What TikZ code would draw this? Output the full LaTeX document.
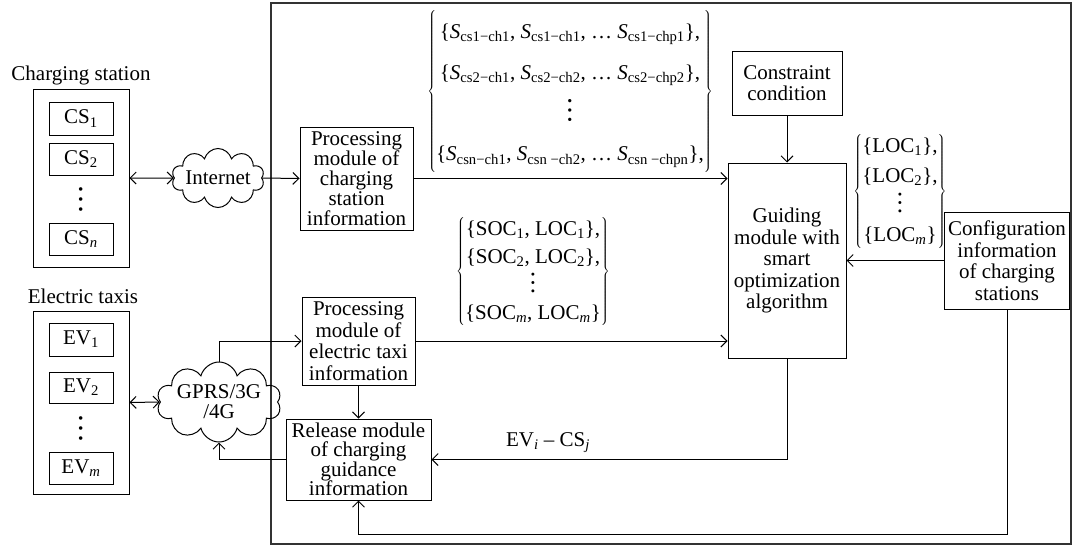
\documentclass[tikz,border=0pt]{standalone}
\usepackage{fontspec}
\usepackage{graphicx}
\setmainfont{Liberation Serif}
\usetikzlibrary{shapes.symbols,arrows.meta}
\newcommand\fs{\fontsize{21}{21.5}\selectfont}
\newcommand\Ss[1]{\textit{S}\textsubscript{#1}}
\newcommand\vd[1]{\makebox[0pt]{\raisebox{-4pt}[0pt][0pt]{\rotatebox{90}{\fontsize{#1}{#1}\selectfont …}}}}
\begin{document}
\begin{tikzpicture}[x=1pt,y=-1pt,
  every node/.style={font=\fs, inner sep=0pt},
  box/.style={draw, line width=1.0pt, align=center},
  lbl/.style={align=center},
  conn/.style={line width=1.0pt},
  arr/.style={conn, -{Straight Barb[length=6pt,width=12pt,line width=1.0pt]}},
  darr/.style={conn, {Straight Barb[length=6pt,width=12pt,line width=1.0pt]}-{Straight Barb[length=6pt,width=12pt,line width=1.0pt]}},
  net/.style={draw, line width=1.0pt, cloud, cloud puffs=10, cloud ignores aspect, align=center},
  dots/.style={rotate=90, font=\fontsize{30}{30}\selectfont}]
\useasboundingbox (0,0) rectangle (1073,546);
% outer frame
\draw[line width=1.6pt, black!80] (271,3) rectangle (1071,544);

% charging stations
\node[lbl] (cslabel) at (81,75) {Charging station};
\node[box, minimum width=96, minimum height=178] (csbox) at (81,178) {};
\node[box, minimum width=64, minimum height=33] (cs1) at (81,118.5) {CS\textsubscript{1}};
\node[box, minimum width=64, minimum height=32] (cs2) at (81,159) {CS\textsubscript{2}};
\node[dots] (csdots) at (81,199) {…};
\node[box, minimum width=64, minimum height=32] (csn) at (81,239) {CS\textsubscript{\textit{n}}};

% electric taxis
\node[lbl] (etlabel) at (83,296) {Electric taxis};
\node[box, minimum width=96, minimum height=183] (evbox) at (81,402.5) {};
\node[box, minimum width=64, minimum height=33] (ev1) at (81,339.5) {EV\textsubscript{1}};
\node[box, minimum width=64, minimum height=31] (ev2) at (81,387.5) {EV\textsubscript{2}};
\node[dots] (evdots) at (81,428) {…};
\node[box, minimum width=64, minimum height=32] (evm) at (81,468) {EV\textsubscript{\textit{m}}};

% clouds
\node[net, minimum width=87, minimum height=59] (internet) at (218,178) {Internet};
\node[net, minimum width=98, minimum height=80, font=\fontsize{21}{20}\selectfont] (gprs) at (219,402) {GPRS/3G\\/4G};

% modules
\node[box, minimum width=113, minimum height=103, font=\fontsize{21}{20}\selectfont] (pcs) at (356.5,178.5) {Processing\\module of\\charging\\station\\information};
\node[box, minimum width=113, minimum height=88] (pet) at (358.5,341) {Processing\\module of\\electric taxi\\information};
\node[box, minimum width=145, minimum height=81, font=\fontsize{21}{19.5}\selectfont] (release) at (358.5,459.5) {Release module\\of charging\\guidance\\information};
\node[box, minimum width=110, minimum height=64] (cond) at (787,83) {Constraint\\condition};
\node[box, minimum width=118, minimum height=195] (guide) at (787,260.5) {Guiding\\module with\\smart\\optimization\\algorithm};
\node[box, minimum width=125, minimum height=97] (config) at (1007,260.5) {Configuration\\information\\of charging\\stations};

% sets
\node (sset) at (570,91.5) {\renewcommand\arraystretch{1.9}$\left\{\begin{array}{@{}c@{}}
\mbox{\{\Ss{cs1−ch1}, \Ss{cs1−ch1}, \ldots\ \Ss{cs1−chp1}\},}\\
\mbox{\{\Ss{cs2−ch1}, \Ss{cs2−ch2}, \ldots\ \Ss{cs2−chp2}\},}\\
\vd{28}\\
\mbox{\{\Ss{csn−ch1}, \Ss{csn −ch2}, \ldots\ \Ss{csn −chpn}\},}
\end{array}\right\}$};
\node (socset) at (533,271.5) {\renewcommand\arraystretch{1.3}$\left\{\begin{array}{@{}c@{}}
\mbox{\{SOC\textsubscript{1}, LOC\textsubscript{1}\},}\\
\mbox{\{SOC\textsubscript{2}, LOC\textsubscript{2}\},}\\
\vd{25}\\
\mbox{\{SOC\textsubscript{\textit{m}}, LOC\textsubscript{\textit{m}}\}}
\end{array}\right\}$};
\node (locset) at (900,191) {\renewcommand\arraystretch{1.38}$\left\{\begin{array}{@{}c@{}}
\mbox{\{LOC\textsubscript{1}\},}\\
\mbox{\{LOC\textsubscript{2}\},}\\
\vd{25}\\
\mbox{\{LOC\textsubscript{\textit{m}}\}}
\end{array}\right\}$};
\node (evcs) at (548,443) {EV\textsubscript{\textit{i}} – CS\textsubscript{\textit{j}}};

% connectors
\draw[darr] (csbox.east) -- (internet.west);
\draw[darr] (evbox.east) -- (gprs.west);
\draw[arr] (internet.east) -- (pcs.west);
\draw[arr] (pcs.east) -- (pcs.east -| guide.west);
\draw[arr] (pet.east) -- (pet.east -| guide.west);
\draw[arr] (cond.south) -- (guide.north);
\draw[arr] (config.west) -- (guide.east);
\draw[arr] (pet.south) -- (release.north);
\draw[arr] (gprs.north) -- (gprs.north |- pet.west) -- (pet.west);
\draw[arr] (release.west) -- (gprs.south |- release.west) -- (gprs.south);
\draw[arr] (guide.south) -- (guide.south |- release.east) -- (release.east);
\coordinate (bot) at (0,534);
\draw[arr] (config.south) -- (config.south |- bot) -- (release.south |- bot) -- (release.south);
\end{tikzpicture}
\end{document}
